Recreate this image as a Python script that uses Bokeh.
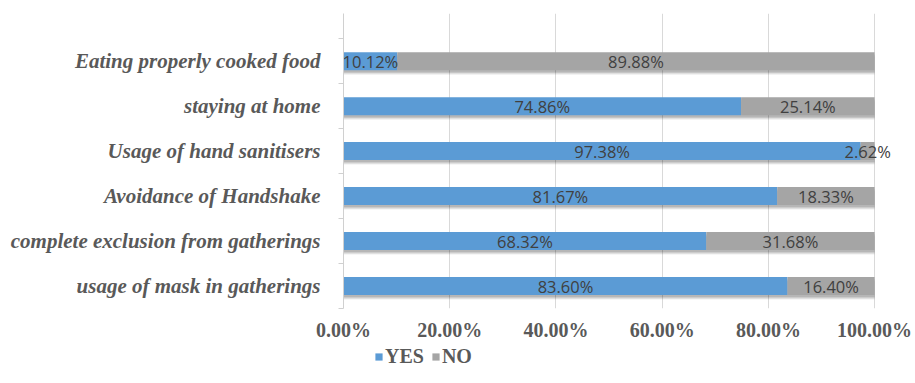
from bokeh.plotting import figure
from bokeh.layouts import column
from bokeh.models import (ColumnDataSource, FixedTicker, Legend, LegendItem,
                          NumeralTickFormatter, Range1d)
from bokeh.core.properties import value
from bokeh.embed import file_html
from bokeh.resources import INLINE

# Survey items, bottom to top
categories = [
    "usage of mask in gatherings",
    "complete exclusion from gatherings",
    "Avoidance of Handshake",
    "Usage of hand sanitisers",
    "staying at home",
    "Eating properly cooked food",
]
yes_pct = [83.60, 68.32, 81.67, 97.38, 74.86, 10.12]
no_pct = [16.40, 31.68, 18.33, 2.62, 25.14, 89.88]
x_ticks = [0.0, 0.2, 0.4, 0.6, 0.8, 1.0]

BLUE = "#5B9BD5"
GRAY = "#A5A5A5"
TEXT = "#595959"

ypos = list(range(len(categories)))
yes = [v / 100 for v in yes_pct]
no = [v / 100 for v in no_pct]

src = ColumnDataSource(dict(
    y=ypos,
    yes=yes,
    no=no,
    total=[a + b for a, b in zip(yes, no)],
    yes_mid=[a / 2 for a in yes],
    no_mid=[a + b / 2 for a, b in zip(yes, no)],
    yes_lbl=[f"{v:.2f}%" for v in yes_pct],
    no_lbl=[f"{v:.2f}%" for v in no_pct],
))

p = figure(width=915, height=345, output_backend="svg", toolbar_location=None,
           x_range=Range1d(0, 1.077), y_range=Range1d(-0.5, 6.06),
           min_border_left=343, min_border_right=0, min_border_top=13,
           min_border_bottom=37)
p.outline_line_color = None
p.background_fill_color = "white"
p.border_fill_color = "white"

BAR_H = 0.4
# soft drop shadow beneath each bar
for dy, a in [(0.1, 0.07), (0.075, 0.10), (0.05, 0.14)]:
    shadow = ColumnDataSource(dict(y=[v - dy for v in ypos],
                                   total=src.data["total"]))
    p.hbar(y="y", left=0, right="total", height=BAR_H, source=shadow,
           fill_color="black", fill_alpha=a, line_color=None)

p.hbar(y="y", left=0, right="yes", height=BAR_H, source=src,
       fill_color=BLUE, line_color=None)
p.hbar(y="y", left="yes", right="total", height=BAR_H, source=src,
       fill_color=GRAY, line_color=None)

lbl_kw = dict(text_font=value("Open Sans"), text_font_size="16.5px",
              text_color="#404040", text_align="center",
              text_baseline="middle", source=src)
p.text(x="yes_mid", y="y", text="yes_lbl", **lbl_kw)
p.text(x="no_mid", y="y", text="no_lbl", **lbl_kw)

# x axis
xa = p.xaxis[0]
xa.ticker = FixedTicker(ticks=x_ticks)
xa.formatter = NumeralTickFormatter(format="0.00%")
xa.axis_line_color = None
xa.major_tick_line_color = None
xa.minor_tick_line_color = None
xa.major_tick_out = 0
xa.major_label_standoff = 10
xa.major_label_text_font = "Liberation Serif"
xa.major_label_text_font_style = "bold"
xa.major_label_text_font_size = "20px"
xa.major_label_text_color = TEXT

# y axis: labels at category centres, small ticks at boundaries
ya = p.yaxis[0]
ya.ticker = FixedTicker(ticks=ypos,
                        minor_ticks=[i - 0.5 for i in range(len(categories) + 1)])
ya.major_label_overrides = {i: c for i, c in enumerate(categories)}
ya.axis_line_color = "#D0D0D0"
ya.major_tick_line_color = None
ya.major_tick_out = 0
ya.minor_tick_line_color = "#D0D0D0"
ya.minor_tick_out = 5
ya.minor_tick_in = 0
ya.major_label_standoff = 18
ya.major_label_text_font = "Liberation Serif"
ya.major_label_text_font_style = "bold italic"
ya.major_label_text_font_size = "21px"
ya.major_label_text_color = TEXT

p.xgrid.grid_line_color = "#D9D9D9"
p.xgrid.ticker = FixedTicker(ticks=x_ticks[1:])
p.ygrid.grid_line_color = None

# legend strip beneath the chart (its frame lines up with the chart's frame)
lg = figure(width=915, height=38, output_backend="svg", toolbar_location=None,
            x_axis_type=None, y_axis_type=None,
            x_range=Range1d(0, 1), y_range=Range1d(100, 101),
            min_border=0)
lg.outline_line_color = None
lg.xgrid.grid_line_color = None
lg.ygrid.grid_line_color = None
k_yes = lg.hbar(y="y", left=0, right="yes", height=BAR_H, source=src,
                fill_color=BLUE, line_color=None)
k_no = lg.hbar(y="y", left="yes", right="total", height=BAR_H, source=src,
               fill_color=GRAY, line_color=None)
legend = Legend(items=[LegendItem(label="YES", renderers=[k_yes]),
                       LegendItem(label="NO", renderers=[k_no])],
                orientation="horizontal", location=(31, 15),
                glyph_width=9, glyph_height=9, label_standoff=2, spacing=7,
                padding=0, margin=0, border_line_color=None,
                background_fill_alpha=0, label_height=20,
                label_text_font="Liberation Serif", label_text_font_style="bold",
                label_text_font_size="20px", label_text_color=TEXT)
lg.add_layout(legend, "center")

layout = column(p, lg, spacing=0)
open("out.html", "w").write(file_html(layout, INLINE))
